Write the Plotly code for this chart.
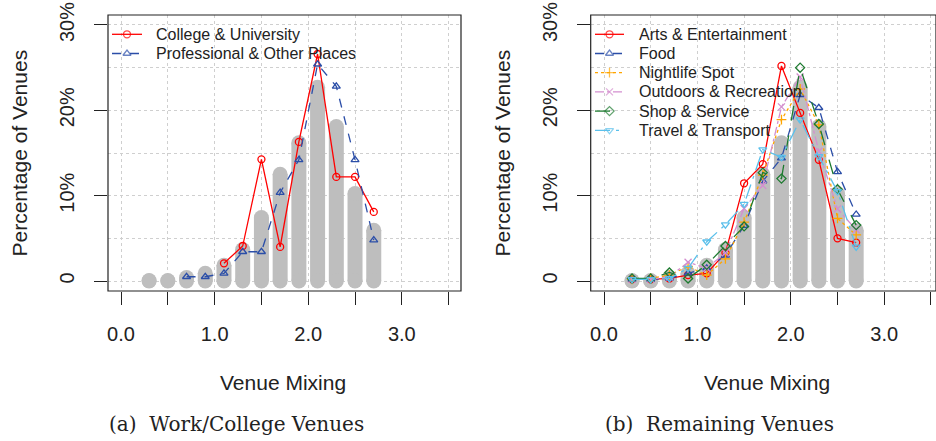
import plotly.graph_objects as go

# ---------------- data ----------------
mixing = [0.3, 0.5, 0.7, 0.9, 1.1, 1.3, 1.5, 1.7, 1.9, 2.1, 2.3, 2.5, 2.7]
overall_pct = [0.05, 0.05, 0.4, 0.9, 1.85, 3.7, 7.45, 12.5, 16.2, 22.7, 18.1, 10.25, 5.95]

college = [None, None, None, None, 2.07, 4.1, 14.26, 4.0, 16.3, 26.6, 12.2, 12.2, 8.1]
professional = [None, None, 0.5, 0.5, 0.9, 3.43, 3.43, 10.35, 14.2, 25.4, 22.8, 14.2, 4.8]

arts = [0.2, 0.2, 0.3, 0.7, 0.9, 3.3, 11.45, 13.7, 25.2, 19.7, 14.2, 5.0, 4.5]
food = [0.2, 0.2, 0.3, 0.9, 1.5, 3.0, 6.5, 11.7, 14.4, 21.8, 20.3, 12.8, 7.8]
nightlife = [0.2, 0.3, 0.7, 1.7, 0.7, 2.6, 6.9, 12.4, 18.9, 22.5, 18.3, 7.35, 5.4]
outdoors = [0.2, 0.2, 0.5, 2.2, 1.5, 3.3, 8.5, 11.2, 20.4, 23.9, 15.2, 8.45, 6.0]
shop = [0.3, 0.3, 1.0, 0.3, 1.9, 4.1, 6.4, 12.7, 12.0, 25.0, 18.4, 10.75, 6.55]
travel = [0.2, 0.2, 0.3, 1.5, 4.6, 6.6, 9.0, 15.4, 14.5, 18.9, 14.6, 10.5, 4.0]

x_tickvals = [0, 0.5, 1, 1.5, 2, 2.5, 3, 3.5]
x_ticktext = ["0.0", "", "1.0", "", "2.0", "", "3.0", ""]
y_tickvals = [0, 10, 20, 30]
y_ticktext = ["0", "10%", "20%", "30%"]

left_series = [
    ("College & University", college, "#FF0000", "solid", "circle-open"),
    ("Professional & Other Places", professional, "#2B4EA8", "dash", "triangle-up-open"),
]
right_series = [
    ("Arts & Entertainment", arts, "#FF0000", "solid", "circle-open"),
    ("Food", food, "#2B4EA8", "dash", "triangle-up-open"),
    ("Nightlife Spot", nightlife, "#FFA500", "dot", "cross-thin-open"),
    ("Outdoors & Recreation", outdoors, "#D48FCF", "dashdot", "x-thin-open"),
    ("Shop & Service", shop, "#1E7B30", "longdash", "diamond-open"),
    ("Travel & Transport", travel, "#5BC0EB", "longdashdot", "triangle-down-open"),
]

SANS = "Liberation Sans, Arial, Helvetica, sans-serif"
TXT = "#222222"
W, H = 936, 441


def px(rx):
    return rx / W


def py(ry):
    return (H - ry) / H


fig = go.Figure()

# gray rounded bars (built from data)
bx, by = [], []
for xv, v in zip(mixing, overall_pct):
    bx += [xv, xv, None]
    by += [0, v, None]

for xa, ya in (("x", "y"), ("x2", "y2")):
    fig.add_trace(go.Scatter(
        x=bx, y=by, mode="lines+markers", xaxis=xa, yaxis=ya,
        line=dict(color="#BEBEBE", width=15),
        marker=dict(color="#BEBEBE", size=15, line=dict(width=0)),
        showlegend=False, hoverinfo="skip", connectgaps=False))


def add_series(series, xa, ya):
    for name, vals, col, dash, sym in series:
        fig.add_trace(go.Scatter(
            x=mixing, y=vals, name=name, mode="lines+markers", xaxis=xa, yaxis=ya,
            line=dict(color=col, width=1.3, dash=dash),
            marker=dict(symbol=sym, size=7, color=col, line=dict(width=1.3, color=col)),
            showlegend=False))


add_series(left_series, "x", "y")
add_series(right_series, "x2", "y2")

# manual legends drawn on an overlay axis measured in window pixels
LEG_ROW0, LEG_STEP = 34.3, 19.2


def add_legend(series, line_x0, line_x1, text_x):
    for i, (name, vals, col, dash, sym) in enumerate(series):
        yy = LEG_ROW0 + i * LEG_STEP
        xm = (line_x0 + line_x1) / 2
        fig.add_trace(go.Scatter(
            x=[line_x0, xm, line_x1], y=[yy, yy, yy], mode="lines+markers",
            xaxis="x3", yaxis="y3", line=dict(color=col, width=1.3, dash=dash),
            marker=dict(symbol=sym, size=[0, 7, 0], color=col,
                        line=dict(width=1.3, color=col)),
            showlegend=False, hoverinfo="skip"))
        fig.add_annotation(xref="paper", yref="paper", x=px(text_x), y=py(yy),
                           xanchor="left", yanchor="middle", showarrow=False,
                           text=name, font=dict(family=SANS, size=16, color=TXT))


add_legend(left_series, 112, 142, 154)
add_legend(right_series, 595, 624, 637)

grid = dict(showgrid=True, gridcolor="#CFCFCF", griddash="3px,3px", gridwidth=1)
common_axis = dict(showline=False, ticks="outside", ticklen=13, tickcolor=TXT, tickwidth=1,
                   tickfont=dict(family=SANS, size=20, color=TXT),
                   ticklabeloverflow="allow",
                   zeroline=False, automargin=False, **grid)

xax = dict(common_axis, tickmode="array", tickvals=x_tickvals, ticktext=x_ticktext,
           ticklabelstandoff=12)
yax = dict(common_axis, tickmode="array", tickvals=y_tickvals, ticktext=y_ticktext,
           tickangle=-90, range=[-1.17, 31.17], ticklabelstandoff=12,
           minor=dict(tickvals=[5, 15, 25], showgrid=True, gridcolor="#CFCFCF",
                      griddash="3px,3px", ticks=""))

ydom = [py(291), py(15)]
fig.update_layout(
    template="none",
    width=W, height=H, margin=dict(l=0, r=0, t=0, b=0, pad=0),
    paper_bgcolor="white", plot_bgcolor="rgba(0,0,0,0)",
    xaxis=dict(xax, domain=[px(108), px(461)], range=[-0.139, 3.632], anchor="y"),
    yaxis=dict(yax, domain=ydom, anchor="x"),
    xaxis2=dict(xax, domain=[px(590.7), 1.0], range=[-0.1424, 3.5546], anchor="y2"),
    yaxis2=dict(yax, domain=ydom, anchor="x2"),
    xaxis3=dict(domain=[0, 1], range=[0, W], visible=False, anchor="y3",
                fixedrange=True),
    yaxis3=dict(domain=[0, 1], range=[H, 0], visible=False, anchor="x3",
                fixedrange=True),
    showlegend=False,
)

# plot frames (box around each panel)
for xr, yr in (("x domain", "y domain"), ("x2 domain", "y2 domain")):
    fig.add_shape(type="rect", xref=xr, yref=yr, x0=0, x1=1, y0=0, y1=1,
                  line=dict(color=TXT, width=1.2), fillcolor="rgba(0,0,0,0)",
                  layer="above")

annots = [
    dict(text="Venue Mixing", x=px(283), y=py(382)),
    dict(text="Venue Mixing", x=px(767), y=py(382)),
    dict(text="Percentage of Venues", x=px(18.5), y=py(153), textangle=-90),
    dict(text="Percentage of Venues", x=px(501.5), y=py(153), textangle=-90),
]
for a in annots:
    fig.add_annotation(xref="paper", yref="paper", xanchor="center", yanchor="middle",
                       showarrow=False, font=dict(family=SANS, size=21, color=TXT), **a)

for txt, xc in (("(a)\u00a0\u00a0Work/College Venues", 236.7), ("(b)\u00a0\u00a0Remaining Venues", 719.7)):
    fig.add_annotation(xref="paper", yref="paper", x=px(xc), y=py(424),
                       xanchor="center", yanchor="middle", showarrow=False, text=txt,
                       font=dict(family="DejaVu Serif, serif", size=20, color=TXT))

# remove the default page margin so the figure fills the window exactly
fig.write_html("out.html", config={"displayModeBar": False},
               post_script="document.body.style.margin='0';document.body.style.overflow='hidden';")
